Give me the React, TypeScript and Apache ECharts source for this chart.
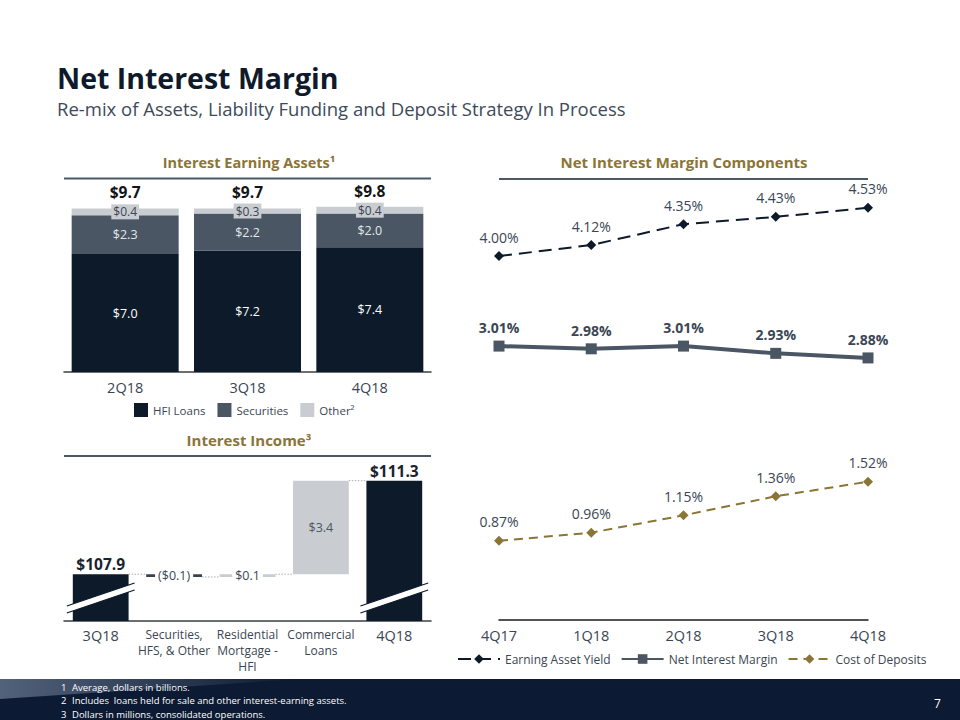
import React, { useEffect, useRef } from 'react';
import * as echarts from 'echarts';

const FONT = '"Open Sans", "Noto Sans", sans-serif';
const NAVY = '#0c1a2a';
const SLATE = '#4a5663';
const LIGHT = '#c9cdd1';
const GOLD = '#8b7536';
const TEXT = '#3a4654';

// Interest Earning Assets ($bn)
const assetQuarters = ['2Q18', '3Q18', '4Q18'];
const hfiLoans = [7.0, 7.2, 7.4];
const securities = [2.3, 2.2, 2.0];
const otherAssets = [0.4, 0.3, 0.4];

// Interest Income ($mm) waterfall
const incomeCategories = ['3Q18', 'Securities,\nHFS, & Other', 'Residential\nMortgage -\nHFI', 'Commercial\nLoans', '4Q18'];
const incomeValues = [107.9, -0.1, 0.1, 3.4, 111.3];

// Net Interest Margin Components (%)
const nimQuarters = ['4Q17', '1Q18', '2Q18', '3Q18', '4Q18'];
const earningAssetYield = [4.0, 4.12, 4.35, 4.43, 4.53];
const netInterestMargin = [3.01, 2.98, 3.01, 2.93, 2.88];
const costOfDeposits = [0.87, 0.96, 1.15, 1.36, 1.52];

const footnoteNums = ['1', '2', '3'];
const footnotes = [
  'Average, dollars in billions.',
  'Includes  loans held for sale and other interest-earning assets.',
  'Dollars in millions, consolidated operations.',
];

const assetTotals = hfiLoans.map((v, i) => +(v + securities[i] + otherAssets[i]).toFixed(1));

// build waterfall rows: [index, low, high, kind, value]
const wfData: any[] = [];
const wfConnectors: any[] = [];
{
  let running = 0;
  incomeValues.forEach((v, i) => {
    const last = incomeValues.length - 1;
    if (i === 0 || i === last) {
      wfData.push([i, 0, v, 0, v]);
      running = v;
    } else {
      const next = running + v;
      wfData.push([i, Math.min(running, next), Math.max(running, next), v < 0 ? 1 : i === 2 ? 2 : 3, v]);
      running = next;
    }
    if (i < last) wfConnectors.push([i, +running.toFixed(2)]);
  });
}

const fmtMoney = (v: number, total: boolean) =>
  total ? `$${v.toFixed(1)}` : v < 0 ? `($${Math.abs(v).toFixed(1)})` : `$${v.toFixed(1)}`;

function buildOption(): any {
  const axisLabelBase = { color: TEXT, fontFamily: FONT };
  return {
    animation: false,
    backgroundColor: '#ffffff',
    textStyle: { fontFamily: FONT },
    grid: [
      { left: 64, top: 195, width: 367, height: 177 },
      { left: 64, top: 460, width: 367, height: 161 },
      { left: 499, top: 165, width: 369, height: 455 },
    ],
    xAxis: [
      {
        type: 'category', gridIndex: 0, data: assetQuarters,
        axisLine: { lineStyle: { color: '#3b3f44', width: 1.5 } },
        axisTick: { show: false },
        axisLabel: { ...axisLabelBase, fontSize: 14.5, margin: 8 },
      },
      {
        type: 'category', gridIndex: 1,
        data: incomeCategories.map((c, i) => ({
          value: c,
          textStyle: i === 0 || i === incomeCategories.length - 1 ? { fontSize: 14.5, lineHeight: 18 } : { fontSize: 12, lineHeight: 16 },
        })),
        axisLine: { lineStyle: { color: '#3b3f44', width: 1.5 } },
        axisTick: { show: false },
        axisLabel: { ...axisLabelBase, margin: 5, interval: 0, verticalAlign: 'top' },
      },
      {
        type: 'category', gridIndex: 2, data: nimQuarters, boundaryGap: false,
        axisLine: { lineStyle: { color: '#1a1a1a', width: 1.5 } },
        axisTick: { show: false },
        axisLabel: { ...axisLabelBase, fontSize: 14.5, margin: 8 },
      },
    ],
    yAxis: [
      { type: 'value', gridIndex: 0, min: 0, max: 10.5, show: false },
      { type: 'value', gridIndex: 1, min: 106.2, max: 112.05, show: false },
      { type: 'value', gridIndex: 2, min: 0, max: 5, show: false },
    ],
    legend: [
      {
        data: ['HFI Loans', 'Securities', 'Other²'],
        left: 129, top: 398, itemWidth: 14, itemHeight: 14, itemGap: 12, icon: 'rect',
        textStyle: { fontSize: 11.5, color: TEXT, fontFamily: FONT },
      },
      {
        data: ['Earning Asset Yield', 'Net Interest Margin', 'Cost of Deposits'],
        left: 452, top: 648, itemWidth: 42, itemHeight: 12, itemGap: 10,
        textStyle: { fontSize: 12, color: TEXT, fontFamily: FONT },
      },
    ],
    series: [
      {
        name: 'HFI Loans', type: 'bar', stack: 'a', xAxisIndex: 0, yAxisIndex: 0, barWidth: 107,
        data: hfiLoans, itemStyle: { color: NAVY },
        label: { show: true, position: 'inside', color: '#ffffff', fontSize: 12.5, fontFamily: FONT, formatter: (p: any) => `$${p.value.toFixed(1)}` },
      },
      {
        name: 'Securities', type: 'bar', stack: 'a', xAxisIndex: 0, yAxisIndex: 0, barWidth: 107,
        data: securities, itemStyle: { color: SLATE },
        label: { show: true, position: 'inside', color: '#e4e7ea', fontSize: 12.5, fontFamily: FONT, formatter: (p: any) => `$${p.value.toFixed(1)}` },
      },
      {
        name: 'Other²', type: 'bar', stack: 'a', xAxisIndex: 0, yAxisIndex: 0, barWidth: 107,
        data: otherAssets, itemStyle: { color: LIGHT },
        label: {
          show: true, position: 'inside', color: TEXT, fontSize: 12, lineHeight: 14, fontFamily: FONT,
          backgroundColor: LIGHT, padding: [1, 2, 0, 2],
          formatter: (p: any) => `$${p.value.toFixed(1)}`,
        },
      },
      {
        type: 'custom', xAxisIndex: 0, yAxisIndex: 0, silent: true,
        data: assetTotals.map((t, i) => [i, t]),
        renderItem: (params: any, api: any) => {
          const p = api.coord([api.value(0), api.value(1)]);
          return {
            type: 'text', x: p[0], y: p[1] - 8,
            style: { text: `$${api.value(1).toFixed(1)}`, fill: '#111418', font: `bold 15.5px ${FONT}`, align: 'center', verticalAlign: 'bottom' },
          };
        },
      },
      {
        type: 'custom', xAxisIndex: 1, yAxisIndex: 1, silent: true, clip: false,
        data: wfConnectors,
        renderItem: (params: any, api: any) => {
          const p = api.coord([api.value(0), api.value(1)]);
          const band = api.size([1, 0])[0];
          const bw = band * 0.76;
          return {
            type: 'line',
            shape: { x1: p[0] + bw / 2, y1: p[1], x2: p[0] + band - bw / 2, y2: p[1] },
            style: { stroke: '#a9aeb3', lineWidth: 1, lineDash: [1.5, 1.5] },
          };
        },
      },
      {
        type: 'custom', xAxisIndex: 1, yAxisIndex: 1, silent: true, clip: false,
        data: wfData,
        encode: { x: 0, y: [1, 2] },
        renderItem: (params: any, api: any) => {
          const i = api.value(0);
          const lo = api.value(1);
          const hi = api.value(2);
          const kind = api.value(3);
          const v = api.value(4);
          const cs = params.coordSys;
          const bottom = cs.y + cs.height;
          const bw = api.size([1, 0])[0] * 0.76;
          const top = api.coord([i, hi]);
          const yLo = Math.min(api.coord([i, lo])[1], bottom);
          const cx = top[0];
          const fill = kind === 0 ? NAVY : kind === 1 ? '#37424f' : LIGHT;
          const children: any[] = [
            { type: 'rect', shape: { x: cx - bw / 2, y: top[1], width: bw, height: Math.max(yLo - top[1], 1) }, style: { fill } },
          ];
          if (kind === 0) {
            const cy = bottom - 23;
            const L = bw / 2 + 6;
            const s = 0.34;
            const t = 7;
            children.push({
              type: 'polygon',
              shape: { points: [[cx - L, cy + L * s - t / 2], [cx + L, cy - L * s - t / 2], [cx + L, cy - L * s + t / 2], [cx - L, cy + L * s + t / 2]] },
              style: { fill: '#ffffff' },
            });
            children.push({ type: 'line', shape: { x1: cx - L, y1: cy + L * s - t / 2, x2: cx + L, y2: cy - L * s - t / 2 }, style: { stroke: NAVY, lineWidth: 1.2 } });
            children.push({ type: 'line', shape: { x1: cx - L, y1: cy + L * s + t / 2, x2: cx + L, y2: cy - L * s + t / 2 }, style: { stroke: NAVY, lineWidth: 1.2 } });
            children.push({
              type: 'text', x: cx, y: top[1] - 2,
              style: { text: fmtMoney(v, true), fill: '#1a2330', font: `bold 15.5px ${FONT}`, align: 'center', verticalAlign: 'bottom' },
            });
          } else if (kind === 3) {
            children.push({
              type: 'text', x: cx, y: (top[1] + yLo) / 2,
              style: { text: fmtMoney(v, false), fill: SLATE, font: `12.5px ${FONT}`, align: 'center', verticalAlign: 'middle' },
            });
          } else {
            children.push({
              type: 'text', x: cx, y: (top[1] + yLo) / 2,
              style: {
                text: fmtMoney(v, false), fill: TEXT, font: `12.5px ${FONT}`, align: 'center', verticalAlign: 'middle',
                backgroundColor: '#ffffff', padding: [1, 3, 1, 3],
              },
            });
          }
          return { type: 'group', children };
        },
      },
      {
        name: 'Earning Asset Yield', type: 'line', xAxisIndex: 2, yAxisIndex: 2,
        data: earningAssetYield, symbol: 'diamond', symbolSize: 10,
        lineStyle: { color: NAVY, width: 2, type: [13, 7] }, itemStyle: { color: NAVY },
        label: { show: true, position: 'top', distance: 7, color: TEXT, fontSize: 14, fontFamily: FONT, formatter: (p: any) => `${p.value.toFixed(2)}%` },
      },
      {
        name: 'Net Interest Margin', type: 'line', xAxisIndex: 2, yAxisIndex: 2,
        data: netInterestMargin, symbol: 'rect', symbolSize: 11,
        lineStyle: { color: SLATE, width: 4 }, itemStyle: { color: SLATE },
        label: { show: true, position: 'top', distance: 6, color: TEXT, fontSize: 14, fontWeight: 'bold', fontFamily: FONT, formatter: (p: any) => `${p.value.toFixed(2)}%` },
      },
      {
        name: 'Cost of Deposits', type: 'line', xAxisIndex: 2, yAxisIndex: 2,
        data: costOfDeposits, symbol: 'diamond', symbolSize: 10,
        lineStyle: { color: GOLD, width: 2, type: [9, 6] }, itemStyle: { color: GOLD },
        label: { show: true, position: 'top', distance: 7, color: TEXT, fontSize: 14, fontFamily: FONT, formatter: (p: any) => `${p.value.toFixed(2)}%` },
      },
    ],
    graphic: [
      { type: 'text', x: 57, y: 78, style: { text: 'Net Interest Margin', fill: '#0e1a2b', font: `bold 28.5px ${FONT}`, verticalAlign: 'middle' } },
      { type: 'text', x: 57, y: 108, style: { text: 'Re-mix of Assets, Liability Funding and Deposit Strategy In Process', fill: '#3d4a5a', font: `18.5px ${FONT}`, verticalAlign: 'middle' } },
      { type: 'text', x: 249, y: 162, style: { text: 'Interest Earning Assets¹', fill: GOLD, font: `bold 14.5px ${FONT}`, align: 'center', verticalAlign: 'middle' } },
      { type: 'line', shape: { x1: 64, y1: 178.5, x2: 431, y2: 178.5 }, style: { stroke: '#4b5866', lineWidth: 2 } },
      { type: 'text', x: 249, y: 440, style: { text: 'Interest Income³', fill: GOLD, font: `bold 15px ${FONT}`, align: 'center', verticalAlign: 'middle' } },
      { type: 'line', shape: { x1: 64, y1: 456, x2: 431, y2: 456 }, style: { stroke: '#4b5866', lineWidth: 2 } },
      { type: 'text', x: 684, y: 162, style: { text: 'Net Interest Margin Components', fill: GOLD, font: `bold 15px ${FONT}`, align: 'center', verticalAlign: 'middle' } },
      { type: 'line', shape: { x1: 499, y1: 179, x2: 868, y2: 179 }, style: { stroke: '#4b5866', lineWidth: 2 } },
      { type: 'rect', shape: { x: 0, y: 679, width: 960, height: 41 }, style: { fill: '#0c1a33' } },
      {
        type: 'polygon', shape: { points: [[0, 679], [300, 679], [0, 699]] },
        style: {
          fill: new echarts.graphic.LinearGradient(0, 0, 1, 0, [
            { offset: 0, color: 'rgba(170,185,210,0.45)' },
            { offset: 1, color: 'rgba(170,185,210,0)' },
          ]),
        },
      },
      ...footnoteNums.map((n, i) => ({ type: 'text', x: 61, y: 687 + i * 13.5, style: { text: n, fill: '#ffffff', font: `9.5px ${FONT}`, verticalAlign: 'middle' } })),
      ...footnotes.map((t, i) => ({ type: 'text', x: 72, y: 687 + i * 13.5, style: { text: t, fill: '#ffffff', font: `9.5px ${FONT}`, verticalAlign: 'middle' } })),
      { type: 'text', x: 934, y: 703, style: { text: '7', fill: '#ffffff', font: `12px ${FONT}`, verticalAlign: 'middle' } },
    ],
  };
}

export default function App() {
  const ref = useRef<HTMLDivElement>(null);
  useEffect(() => {
    document.body.style.margin = '0';
    const chart = echarts.init(ref.current as HTMLDivElement, null, { renderer: 'svg' });
    chart.setOption(buildOption());
    return () => chart.dispose();
  }, []);
  return <div ref={ref} style={{ width: 960, height: 720 }} />;
}
